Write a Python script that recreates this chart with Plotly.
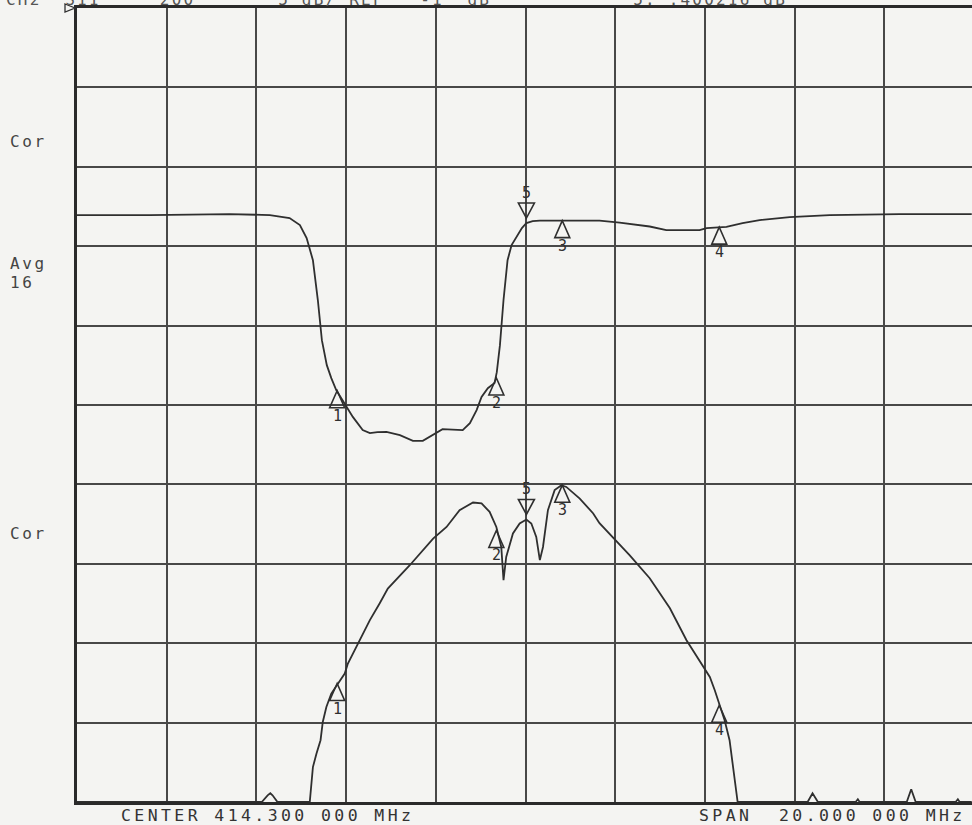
import plotly.graph_objects as go

# Sweep / display settings
center_mhz = 414.3
span_mhz = 20.0
ref_db = -1.0
scale_db = 5.0          # dB per division
n_div = 10

# Channel 1 (upper trace)
ch1_freq = [404.30, 405.92, 407.70, 408.60, 409.04, 409.27, 409.42, 409.56, 409.67, 409.76,
            409.87, 409.97, 410.08, 410.31, 410.45, 410.67, 410.83, 411.00, 411.20, 411.50,
            411.79, 412.01, 412.16, 412.34, 412.45, 412.90, 413.06, 413.21, 413.32, 413.46,
            413.61, 413.66, 413.73, 413.81, 413.90, 413.99, 414.10, 414.22, 414.32, 414.46,
            414.62, 415.95, 416.40, 417.07, 417.44, 418.18, 418.34, 418.78, 419.14, 419.52,
            420.19, 421.08, 422.64, 424.25]
ch1_db = [-14.04, -14.04, -13.98, -14.04, -14.23, -14.67, -15.49, -16.88, -19.39, -21.92,
          -23.49, -24.31, -25.06, -26.11, -26.75, -27.58, -27.77, -27.71, -27.69, -27.90,
          -28.26, -28.26, -28.01, -27.69, -27.52, -27.58, -27.14, -26.32, -25.49, -24.94,
          -24.62, -23.93, -22.23, -19.39, -16.88, -15.93, -15.41, -14.86, -14.54, -14.42,
          -14.39, -14.39, -14.51, -14.76, -14.99, -14.99, -14.86, -14.78, -14.54, -14.36,
          -14.17, -14.04, -13.98, -13.98]

# Channel 2 (lower trace); values at the bottom graticule line are off-scale
ch2_freq = [404.30, 408.42, 408.55, 408.61, 408.66, 408.77, 409.49, 409.53, 409.56, 409.64,
            409.73, 409.78, 409.86, 409.97, 410.12, 410.27, 410.34, 410.45, 410.60, 410.83,
            411.05, 411.23, 411.72, 412.24, 412.54, 412.83, 413.13, 413.32, 413.50, 413.65,
            413.76, 413.81, 413.87, 414.02, 414.17, 414.32, 414.43, 414.54, 414.62, 414.69,
            414.80, 414.95, 415.10, 415.21, 415.51, 415.81, 415.95, 416.31, 416.62, 417.07,
            417.52, 417.89, 418.03, 418.26, 418.41, 418.52, 418.63, 418.74, 418.85, 418.93,
            419.00, 419.03, 420.59, 420.70, 420.82, 421.66, 421.71, 421.75, 422.80, 422.90,
            423.00, 423.89, 423.94, 423.98, 424.25]
ch2_db = [-51.0, -51.0, -50.58, -50.45, -50.58, -51.0, -51.0, -49.84, -48.80, -47.95,
          -47.11, -45.96, -45.02, -44.17, -43.54, -42.91, -42.28, -41.65, -40.81, -39.55,
          -38.48, -37.56, -36.09, -34.41, -33.68, -32.62, -32.14, -32.20, -32.73, -33.68,
          -34.94, -37.03, -35.57, -34.09, -33.46, -33.21, -33.46, -34.31, -35.77, -34.94,
          -32.62, -31.36, -31.05, -31.16, -31.89, -32.83, -33.44, -34.51, -35.46, -36.91,
          -38.80, -40.81, -41.44, -42.39, -43.13, -43.96, -44.91, -45.85, -47.11, -48.80,
          -50.47, -51.0, -51.0, -50.45, -51.0, -51.0, -50.83, -51.0, -51.0, -50.20,
          -51.0, -51.0, -50.83, -51.0, -51.0]

# Markers (coupled between channels)
marker_ids = ["1", "2", "5", "3", "4"]
marker_freq = [410.10, 413.65, 414.32, 415.12, 418.62]
marker_down = [False, False, True, False, False]
ch1_marker_db = [-25.1, -24.3, -14.54, -14.39, -14.8]
ch2_marker_db = [-43.54, -33.9, -33.21, -31.05, -44.91]

# Annotation text
header_text = "CH2\u00a0\u00a0S11\u00a0\u00a0\u00a0\u00a0\u00a0200\u00a0\u00a0\u00a0\u00a0\u00a0\u00a0\u00a05\u00a0dB/\u00a0REF\u00a0\u00a0\u00a0-1\u00a0\u00a0dB\u00a0\u00a0\u00a0\u00a0\u00a0\u00a0\u00a0\u00a0\u00a0\u00a0\u00a0\u00a05:\u00a0.400216\u00a0dB"
center_text = "CENTER\u00a0414.300\u00a0000\u00a0MHz"
span_text = "SPAN\u00a0\u00a020.000\u00a0000\u00a0MHz"

INK = "#2f2f2f"
GRID = "#484848"
BG = "#f4f4f2"
FONT = "DejaVu Sans Mono"

W, H = 972, 825
ML, MR, MT, MB = 77, 0, 8, 23


def spaced(s, px=3.4):
    return f'<span style="letter-spacing:{px}px">{s}</span>'


fig = go.Figure()
for fx, fy in ((ch1_freq, ch1_db), (ch2_freq, ch2_db)):
    fig.add_trace(go.Scatter(x=fx, y=fy, mode="lines",
                             line=dict(color=INK, width=1.8),
                             hoverinfo="skip", showlegend=False))

shapes = []
annotations = []
for vals in (ch1_marker_db, ch2_marker_db):
    for mid, f, v, down in zip(marker_ids, marker_freq, vals, marker_down):
        if down:
            path = "M0,5 L-8,20 L8,20 Z"
            shift = 30
        else:
            path = "M0,0 L-7.5,-17 L7.5,-17 Z"
            shift = -25
        shapes.append(dict(type="path", xref="x", yref="y",
                           xsizemode="pixel", ysizemode="pixel",
                           xanchor=f, yanchor=v, path=path,
                           line=dict(color=INK, width=1.6),
                           fillcolor="rgba(0,0,0,0)"))
        annotations.append(dict(x=f, y=v, xref="x", yref="y", text=mid,
                                showarrow=False, yshift=shift,
                                xanchor="center", yanchor="middle",
                                font=dict(family=FONT, size=15, color=INK)))

# reference-position pointer at the top-left of the graticule
shapes.append(dict(type="path", xref="paper", yref="paper",
                   xsizemode="pixel", ysizemode="pixel",
                   xanchor=0, yanchor=1, path="M-12,4 L-2,0 L-12,-4 Z",
                   line=dict(color=INK, width=1.3),
                   fillcolor="rgba(0,0,0,0)"))

plot_h = H - MT - MB
plot_w = W - ML - MR


def left_label(text, y_px):
    return dict(xref="paper", yref="paper", x=0, xshift=8 - ML,
                y=(H - MB - y_px) / plot_h, xanchor="left", yanchor="middle",
                text=spaced(text, 2.6), showarrow=False,
                font=dict(family=FONT, size=16, color="#444"))


annotations += [
    left_label("Cor", 141),
    left_label("Avg", 263),
    left_label("16", 283),
    left_label("Cor", 533),
    dict(xref="paper", yref="paper", x=0, xshift=119 - ML, y=0, yshift=-13,
         xanchor="left", yanchor="middle", text=spaced(center_text),
         showarrow=False, font=dict(family=FONT, size=16.5, color="#333")),
    dict(xref="paper", yref="paper", x=(697 - ML) / plot_w, y=0, yshift=-13,
         xanchor="left", yanchor="middle", text=spaced(span_text),
         showarrow=False, font=dict(family=FONT, size=16.5, color="#333")),
    dict(xref="paper", yref="paper", x=0, xshift=4 - ML, y=1, yshift=9,
         xanchor="left", yanchor="middle", text=spaced(header_text, 2.2),
         showarrow=False, font=dict(family=FONT, size=16, color="#555")),
]

x0 = center_mhz - span_mhz / 2
fig.update_layout(
    width=W, height=H,
    margin=dict(l=ML, r=MR, t=MT, b=MB, pad=0),
    paper_bgcolor=BG, plot_bgcolor=BG,
    shapes=shapes, annotations=annotations,
    xaxis=dict(range=[x0, x0 + span_mhz * plot_w / 897], tick0=x0,
               dtick=span_mhz / n_div, showticklabels=False, ticks="",
               showgrid=True, gridcolor=GRID, gridwidth=1.6, zeroline=False,
               showline=True, linecolor="#2a2a2a", linewidth=2.6, mirror=True),
    yaxis=dict(range=[ref_db - n_div * scale_db, ref_db], tick0=ref_db,
               dtick=scale_db, showticklabels=False, ticks="",
               showgrid=True, gridcolor=GRID, gridwidth=1.6, zeroline=False,
               showline=True, linecolor="#2a2a2a", linewidth=2.6, mirror=False),
)

fig.write_html("out.html")
